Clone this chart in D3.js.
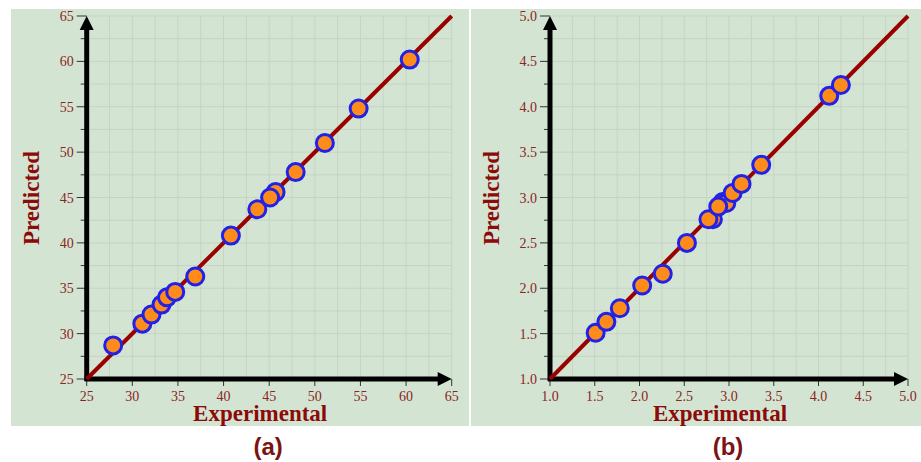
<!DOCTYPE html>
<html>
<head>
  <meta content="text/html;charset=utf-8" http-equiv="Content-Type">
  <title>Predicted vs experimental</title>
<script src="https://cdnjs.cloudflare.com/ajax/libs/d3/7.6.1/d3.min.js"></script>
<style>
  body { margin: 0; background: #fff; }
</style>
</head>
<body>
<svg id="chart" width="921" height="462"></svg>
<script>

// --- data ---
let expA  = [27.9, 31.1, 32.1, 33.2, 33.8, 34.7, 36.9, 40.8, 43.7, 45.7, 45.1, 47.9, 51.1, 54.8, 60.4];
let predA = [28.7, 31.1, 32.1, 33.2, 34.0, 34.6, 36.3, 40.8, 43.7, 45.6, 45.0, 47.8, 51.0, 54.8, 60.2];
let ticksA = [25, 30, 35, 40, 45, 50, 55, 60, 65];

let expB  = [1.51, 1.63, 1.78, 2.03, 2.26, 2.53, 2.82, 2.77, 2.93, 2.97, 2.88, 3.04, 3.14, 3.36, 4.12, 4.25];
let predB = [1.51, 1.63, 1.78, 2.03, 2.16, 2.50, 2.76, 2.76, 2.95, 2.94, 2.90, 3.05, 3.15, 3.36, 4.12, 4.24];
let ticksB = [1.0, 1.5, 2.0, 2.5, 3.0, 3.5, 4.0, 4.5, 5.0];

let panelLabels = ['(a)', '(b)'];

const red = '#8b0a0a';
const svg = d3.select('#chart');

function drawPanel(box, exp, pred, ticks, fmt, label) {
   let lo = ticks[0], hi = ticks[ticks.length - 1];
   let step = (ticks[1] - ticks[0]) / 2;
   let minor = d3.range(lo, hi + step / 2, step);

   let g = svg.append('g');

   // green panel
   g.append('rect')
      .attr('x', box.bgX).attr('y', 9)
      .attr('width', box.bgW).attr('height', 417)
      .attr('fill', '#d4e4d2');

   let x = d3.scaleLinear().domain([lo, hi]).range([box.x0, box.x1]);
   let y = d3.scaleLinear().domain([lo, hi]).range([379, 16]);

   // grid
   g.selectAll('line.gx').data(minor).enter().append('line')
      .attr('x1', d => x(d)).attr('x2', d => x(d))
      .attr('y1', y(lo)).attr('y2', y(hi))
      .attr('stroke', '#c6d3c5').attr('stroke-width', 1);
   g.selectAll('line.gy').data(minor).enter().append('line')
      .attr('y1', d => y(d)).attr('y2', d => y(d))
      .attr('x1', x(lo)).attr('x2', x(hi))
      .attr('stroke', '#c6d3c5').attr('stroke-width', 1);

   // y ticks (major + minor)
   g.selectAll('line.ty').data(minor).enter().append('line')
      .attr('x1', (d, i) => x(lo) - (i % 2 ? 6 : 10)).attr('x2', x(lo))
      .attr('y1', d => y(d)).attr('y2', d => y(d))
      .attr('stroke', '#333').attr('stroke-width', 1);
   // x ticks
   g.selectAll('line.tx').data(ticks).enter().append('line')
      .attr('x1', d => x(d)).attr('x2', d => x(d))
      .attr('y1', y(lo)).attr('y2', y(lo) + 7)
      .attr('stroke', '#333').attr('stroke-width', 1);

   g.selectAll('text.ly').data(ticks).enter().append('text')
      .attr('x', x(lo) - 13).attr('y', d => y(d) + 5)
      .attr('text-anchor', 'end')
      .attr('font-family', 'Liberation Serif').attr('font-size', 14)
      .attr('fill', '#8b2424')
      .text(fmt);
   g.selectAll('text.lx').data(ticks).enter().append('text')
      .attr('x', d => x(d)).attr('y', y(lo) + 22)
      .attr('text-anchor', 'middle')
      .attr('font-family', 'Liberation Serif').attr('font-size', 14)
      .attr('fill', '#8b2424')
      .text(fmt);

   // axes with arrows
   g.append('line')
      .attr('x1', x(lo)).attr('x2', x(lo))
      .attr('y1', y(lo) + 2).attr('y2', y(hi) + 12)
      .attr('stroke', '#000').attr('stroke-width', 5);
   g.append('path')
      .attr('d', `M${x(lo) - 7},${y(hi) + 14} L${x(lo)},${y(hi)} L${x(lo) + 7},${y(hi) + 14}Z`)
      .attr('fill', '#000');
   g.append('line')
      .attr('x1', x(lo) - 2).attr('x2', x(hi) - 12)
      .attr('y1', y(lo)).attr('y2', y(lo))
      .attr('stroke', '#000').attr('stroke-width', 5);
   g.append('path')
      .attr('d', `M${x(hi) - 14},${y(lo) - 7} L${x(hi)},${y(lo)} L${x(hi) - 14},${y(lo) + 7}Z`)
      .attr('fill', '#000');

   // 1:1 line
   g.append('line')
      .attr('x1', x(lo)).attr('y1', y(lo))
      .attr('x2', x(hi)).attr('y2', y(hi))
      .attr('stroke', '#990000').attr('stroke-width', 4);

   // points
   g.selectAll('circle').data(exp).enter().append('circle')
      .attr('cx', d => x(d))
      .attr('cy', (d, i) => y(pred[i]))
      .attr('r', 8.5)
      .attr('fill', '#ff8c1a')
      .attr('stroke', '#2222e6')
      .attr('stroke-width', 3);

   // titles
   g.append('text')
      .attr('x', (x(lo) + x(hi)) / 2 - 9).attr('y', 421)
      .attr('text-anchor', 'middle')
      .attr('font-family', 'Liberation Serif').attr('font-weight', 'bold')
      .attr('font-size', 23).attr('fill', red)
      .text('Experimental');
   g.append('text')
      .attr('transform', `translate(${box.bgX + 28},198) rotate(-90)`)
      .attr('text-anchor', 'middle')
      .attr('font-family', 'Liberation Serif').attr('font-weight', 'bold')
      .attr('font-size', 23).attr('fill', red)
      .text('Predicted');
   g.append('text')
      .attr('x', (x(lo) + x(hi)) / 2 - 1).attr('y', 455)
      .attr('text-anchor', 'middle')
      .attr('font-family', 'Liberation Sans').attr('font-weight', 'bold')
      .attr('font-size', 24).attr('fill', '#7a1414')
      .text(label);
}

drawPanel({bgX: 11, bgW: 458, x0: 86.7, x1: 451.7}, expA, predA, ticksA, d => d3.format('d')(d), panelLabels[0]);
drawPanel({bgX: 471, bgW: 450, x0: 550, x1: 908}, expB, predB, ticksB, d => d3.format('.1f')(d), panelLabels[1]);

</script>
</body>
</html>
